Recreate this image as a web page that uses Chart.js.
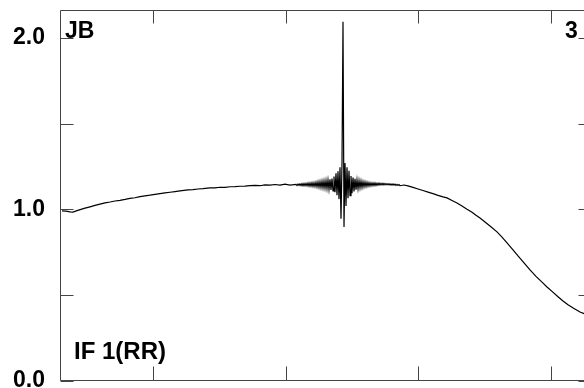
<!DOCTYPE html>
<html>
<head>
<meta charset="utf-8">
<script src="https://cdn.jsdelivr.net/npm/chart.js@4.4.1/dist/chart.umd.min.js"></script>
<style>
  html, body { margin: 0; padding: 0; background: #fff; overflow: hidden; }
  #wrap { width: 604px; height: 388px; }
</style>
</head>
<body>
<div id="wrap"><canvas id="c" width="604" height="388"></canvas></div>
<script>
// ---- data (channel number vs. amplitude) ----
const baseChannels = [2, 6, 10, 13, 17, 21, 25, 30, 35, 40, 45, 50, 55, 60, 65, 70, 75, 80, 85, 90, 95, 100, 105, 110, 115, 120, 128, 133, 138, 143, 150, 155, 160, 165, 170, 175, 180, 185, 190, 195, 200, 205, 210, 215, 220, 225, 230];
const baseValues   = [0.991, 0.990, 0.986, 0.984, 0.993, 1.000, 1.007, 1.015, 1.023, 1.031, 1.038, 1.043, 1.049, 1.053, 1.058, 1.064, 1.068, 1.074, 1.079, 1.083, 1.088, 1.092, 1.096, 1.100, 1.104, 1.108, 1.114, 1.115, 1.119, 1.121, 1.125, 1.126, 1.129, 1.128, 1.132, 1.133, 1.135, 1.136, 1.139, 1.140, 1.138, 1.143, 1.141, 1.145, 1.141, 1.147, 1.141];

// ringing around the spike, one value per channel starting at spikeFirstChannel
const spikeFirstChannel = 236;
const spikeValues = [
  1.146, 1.139, 1.148, 1.140, 1.149, 1.139, 1.150, 1.138, 1.151, 1.138,
  1.152, 1.137, 1.153, 1.136, 1.154, 1.135, 1.155, 1.134, 1.156, 1.133,
  1.158, 1.131, 1.160, 1.129, 1.162, 1.127, 1.164, 1.125, 1.166, 1.123,
  1.168, 1.121, 1.172, 1.117, 1.176, 1.113, 1.180, 1.108, 1.192, 1.100,
  1.210, 1.082, 1.222, 1.060, 1.245, 0.945, 1.275, 2.093, 0.898, 1.270,
  1.020, 1.245, 1.065, 1.225, 1.080, 1.195, 1.095, 1.185, 1.105, 1.178,
  1.115, 1.172, 1.120, 1.168, 1.125, 1.165, 1.128, 1.162, 1.131, 1.160,
  1.133, 1.158, 1.135, 1.156, 1.137, 1.155, 1.138, 1.154, 1.139, 1.154,
  1.140, 1.153, 1.141, 1.153, 1.142, 1.152, 1.143, 1.152, 1.143, 1.151,
  1.143, 1.150, 1.143, 1.150, 1.142, 1.149, 1.142, 1.148, 1.141, 1.147,
  1.140, 1.146, 1.140, 1.145, 1.138
];

const tailChannels = [344, 348, 353, 358, 363, 368, 373, 378, 383, 387, 392, 397, 402, 407, 412, 416, 420, 425, 430, 437, 442, 447, 453, 458, 464, 470, 476, 482, 487, 492, 498, 503, 508, 514, 520, 526, 531];
const tailValues   = [1.142, 1.137, 1.128, 1.119, 1.110, 1.101, 1.092, 1.082, 1.073, 1.067, 1.052, 1.037, 1.020, 1.001, 0.983, 0.966, 0.950, 0.927, 0.903, 0.869, 0.838, 0.805, 0.764, 0.729, 0.689, 0.647, 0.610, 0.576, 0.548, 0.522, 0.491, 0.466, 0.444, 0.423, 0.402, 0.388, 0.380];

// ---- axes ----
const yTickValues = [0, 0.5, 1.0, 1.5, 2.0];
const yTickLabels = ['0.0', '', '1.0', '', '2.0'];
const xTickValues = [93, 226, 358, 491];
const xMin = 0, xMax = 531;
const yMin = 0, yMax = 2.162;

// ---- annotations ----
const sourceLabel = 'JB';
const panelLabel = '3';
const ifLabel = 'IF 1(RR)';

// build points
const points = [];
baseChannels.forEach((c, i) => points.push({ x: c, y: baseValues[i] }));
spikeValues.forEach((v, i) => points.push({ x: spikeFirstChannel + i, y: v }));
tailChannels.forEach((c, i) => points.push({ x: c, y: tailValues[i] }));

const FAMILY = '"Liberation Sans", Arial, sans-serif';
const FRAME = '#444';

const framePlugin = {
  id: 'frame',
  afterDatasetsDraw(chart) {
    const ctx = chart.ctx;
    const a = chart.chartArea;
    const xs = chart.scales.x, ys = chart.scales.y;
    const L = Math.round(a.left) + 0.5, R = Math.round(a.right) + 0.5;
    const T = Math.round(a.top) + 0.5, B = Math.round(a.bottom) - 0.5;
    ctx.save();
    ctx.strokeStyle = FRAME;
    ctx.lineWidth = 1;
    ctx.beginPath();
    ctx.rect(L, T, R - L, B - T);
    ctx.stroke();
    ctx.beginPath();
    const tl = 13;
    yTickValues.forEach(v => {
      const p = Math.round(ys.getPixelForValue(v)) + 0.5;
      ctx.moveTo(L, p); ctx.lineTo(L + tl, p);
      ctx.moveTo(R, p); ctx.lineTo(R - tl, p);
    });
    xTickValues.forEach(v => {
      const p = Math.round(xs.getPixelForValue(v)) + 0.5;
      ctx.moveTo(p, T); ctx.lineTo(p, T + tl);
      ctx.moveTo(p, B); ctx.lineTo(p, B - 14);
    });
    ctx.stroke();
    // text annotations
    ctx.fillStyle = '#000';
    ctx.font = 'bold 23px ' + FAMILY;
    ctx.textBaseline = 'alphabetic';
    ctx.textAlign = 'left';
    ctx.fillText(sourceLabel, a.left + 5, 38);
    ctx.fillText(panelLabel, a.left + 505, 38);
    ctx.font = 'bold 24px ' + FAMILY;
    ctx.fillText(ifLabel, a.left + 14, 359);
    ctx.restore();
  }
};

new Chart(document.getElementById('c'), {
  type: 'line',
  data: {
    datasets: [{
      data: points,
      borderColor: '#000',
      borderWidth: 1.2,
      pointRadius: 0,
      tension: 0,
      fill: false
    }]
  },
  options: {
    responsive: false,
    animation: false,
    events: [],
    layout: { padding: { left: 0, top: 10, right: 13, bottom: 7 } },
    plugins: { legend: { display: false }, tooltip: { enabled: false } },
    scales: {
      x: {
        type: 'linear',
        min: xMin, max: xMax,
        display: false
      },
      y: {
        type: 'linear',
        min: yMin, max: yMax,
        grid: { display: false, drawTicks: false },
        border: { display: false },
        afterBuildTicks(scale) {
          scale.ticks = yTickValues.map(v => ({ value: v }));
        },
        afterFit(scale) {
          scale.width = 60;
          scale.paddingTop = 0;
          scale.paddingBottom = 0;
        },
        ticks: {
          padding: 15,
          color: '#000',
          autoSkip: false,
          font: { family: FAMILY, size: 23, weight: 'bold' },
          callback(value, index) { return yTickLabels[index]; }
        }
      }
    }
  },
  plugins: [framePlugin]
});
</script>
</body>
</html>
